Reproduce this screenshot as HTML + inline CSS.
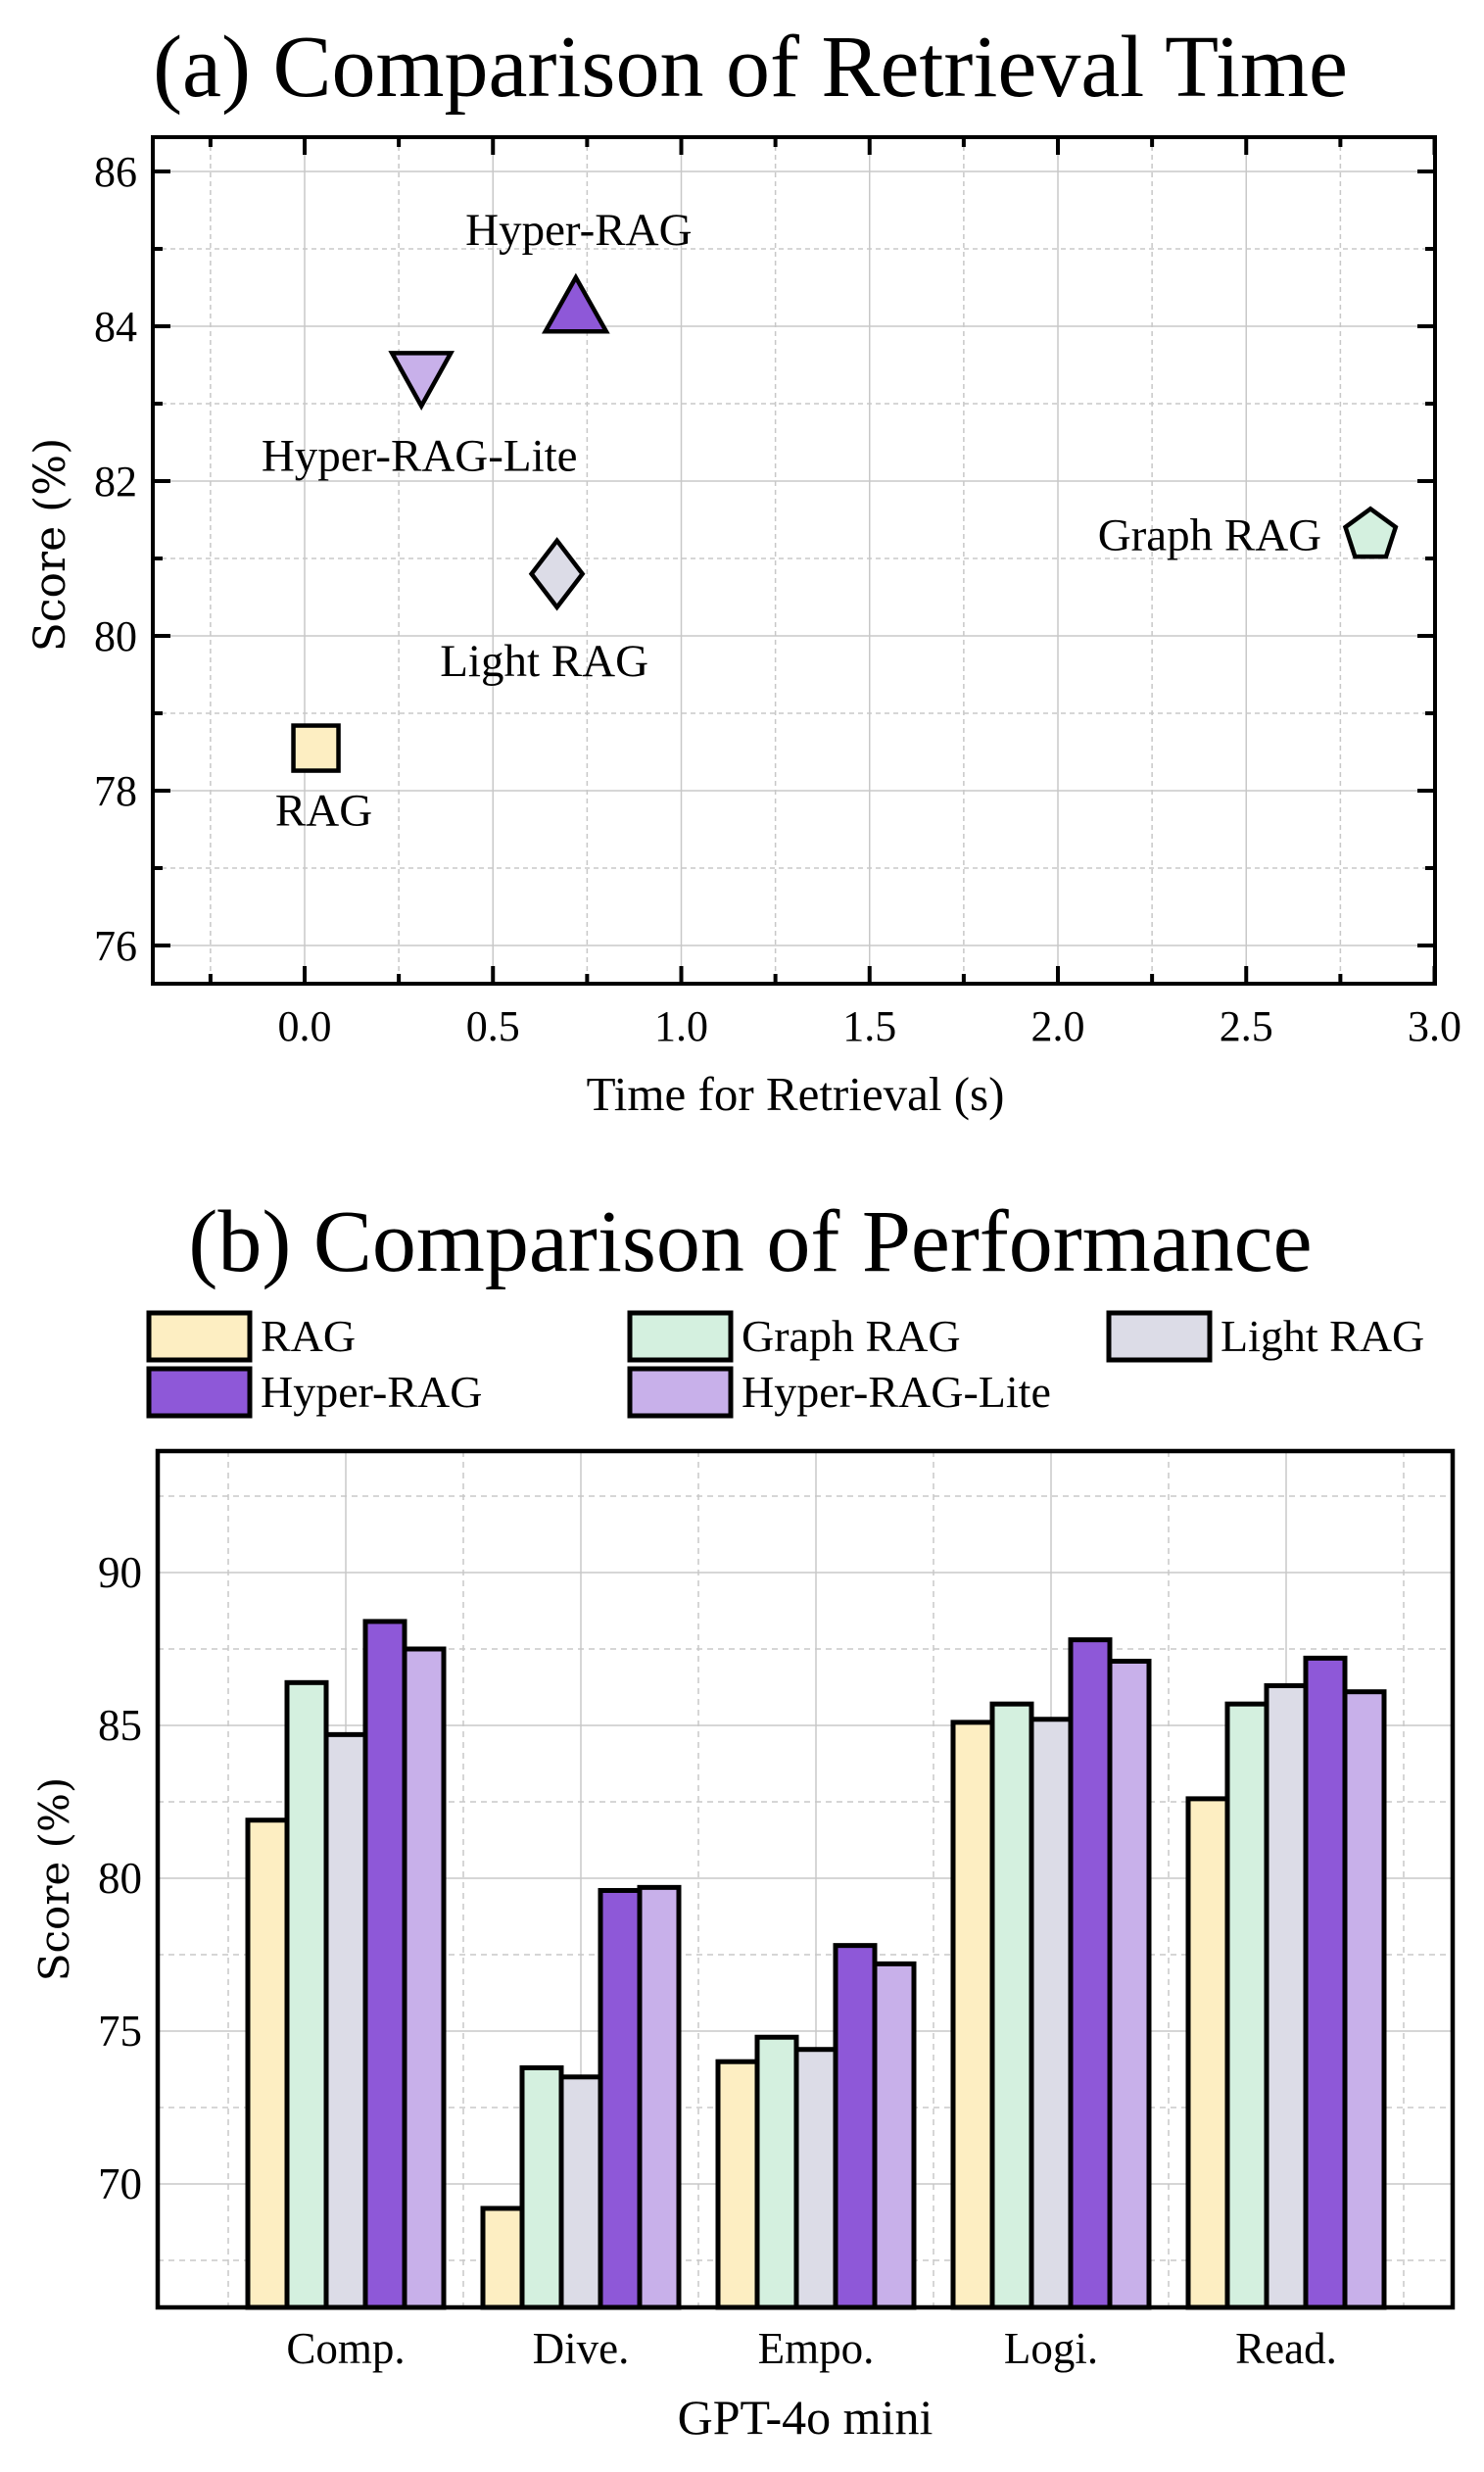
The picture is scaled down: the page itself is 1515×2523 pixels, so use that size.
<!DOCTYPE html>
<html><head><meta charset="utf-8">
<style>
html,body{margin:0;padding:0;background:#fff;}
svg{display:block;font-family:"Liberation Serif",serif;}
</style></head>
<body>
<svg id="fig" width="1515" height="2523" viewBox="0 0 1515 2523" xmlns="http://www.w3.org/2000/svg">
<text x="766" y="98" font-size="90" text-anchor="middle">(a) Comparison of Retrieval Time</text>
<g id="chartA"></g>
<text x="766" y="1297" font-size="90" text-anchor="middle">(b) Comparison of Performance</text>
<g id="legend"></g>
<g id="chartB"></g>
</svg>
<script>
// ---- Chart A data ----
const methodsA = ["RAG","Hyper-RAG-Lite","Hyper-RAG","Light RAG","Graph RAG"];
const timesA = [0.03, 0.31, 0.72, 0.67, 2.83];
const scoresA = [78.55, 83.4, 84.2, 80.8, 81.3];
const xTicksA = [0.0,0.5,1.0,1.5,2.0,2.5,3.0];
const yTicksA = [76,78,80,82,84,86];
// ---- Chart B data ----
const categoriesB = ["Comp.","Dive.","Empo.","Logi.","Read."];
const seriesNamesB = ["RAG","Graph RAG","Light RAG","Hyper-RAG","Hyper-RAG-Lite"];
const ragB = [81.9, 69.2, 74.0, 85.1, 82.6];
const graphB = [86.4, 73.8, 74.8, 85.7, 85.7];
const lightB = [84.7, 73.5, 74.4, 85.2, 86.3];
const hyperB = [88.4, 79.6, 77.8, 87.8, 87.2];
const liteB = [87.5, 79.7, 77.2, 87.1, 86.1];
const yTicksB = [70,75,80,85,90];

const NS="http://www.w3.org/2000/svg";
const colors={"RAG":"#fdeec2","Graph RAG":"#d4f0df","Light RAG":"#dcdce7","Hyper-RAG":"#8e58d8","Hyper-RAG-Lite":"#c8b0ea"};
function mk(parent,tag,attrs,text){const e=document.createElementNS(NS,tag);for(const k in attrs)e.setAttribute(k,attrs[k]);if(text!==undefined)e.textContent=text;parent.appendChild(e);return e;}

// ===== Chart A =====
const A=document.getElementById('chartA');
const aL=156,aR=1465,aT=140,aB=1004;
const xA=v=>311+v*384.5;
const yA=v=>807-(v-78)*79;
for(let v=-0.25;v<=3.0001;v+=0.25){const major=Math.abs(v*2-Math.round(v*2))<1e-6;
 const g=mk(A,'line',{x1:xA(v),x2:xA(v),y1:aT,y2:aB,stroke:'#c8c8c8','stroke-width':1.5,'stroke-dasharray':major?'':'5,4'});
 
 }
for(let v=76;v<=86;v+=1){const major=v%2===0;
 const g=mk(A,'line',{x1:aL,x2:aR,y1:yA(v),y2:yA(v),stroke:'#c8c8c8','stroke-width':1.5,'stroke-dasharray':major?'':'5,4'});
 
 }
for(let v=-0.25;v<=3.0001;v+=0.25){const major=Math.abs(v*2-Math.round(v*2))<1e-6;const L=major?18:10;
 mk(A,'line',{x1:xA(v),x2:xA(v),y1:aB,y2:aB-L,stroke:'#000','stroke-width':4});
 mk(A,'line',{x1:xA(v),x2:xA(v),y1:aT,y2:aT+L,stroke:'#000','stroke-width':4});}
for(let v=76;v<=86;v+=1){const L=(v%2===0)?18:10;
 mk(A,'line',{x1:aL,x2:aL+L,y1:yA(v),y2:yA(v),stroke:'#000','stroke-width':4});
 mk(A,'line',{x1:aR,x2:aR-L,y1:yA(v),y2:yA(v),stroke:'#000','stroke-width':4});}
xTicksA.forEach(v=>{const t=mk(A,'text',{x:xA(v),y:1062,'font-size':44,'text-anchor':'middle'},v.toFixed(1));
 
 });
yTicksA.forEach(v=>{const t=mk(A,'text',{x:140,y:yA(v)+15,'font-size':44,'text-anchor':'end'},String(v));
 
 });
mk(A,'rect',{x:aL,y:aT,width:aR-aL,height:aB-aT,fill:'none',stroke:'#000','stroke-width':4});
let t=mk(A,'text',{x:812,y:1133,'font-size':49,'text-anchor':'middle'},'Time for Retrieval (s)');


t=mk(A,'text',{x:0,y:0,'font-size':44,'text-anchor':'middle',transform:'translate(66,556) rotate(-90)','font-family':'"DejaVu Serif",serif'},'Score (%)');


const labelOff={"RAG":[8,79,'middle'],"Hyper-RAG-Lite":[-2,100,'middle'],"Hyper-RAG":[3,-67,'middle'],"Light RAG":[-13,104,'middle'],"Graph RAG":[-50,15,'end']};
methodsA.forEach((m,i)=>{const cx=xA(timesA[i]),cy=yA(scoresA[i]);let el;
 const st={fill:colors[m],stroke:'#000','stroke-width':4.5,'stroke-linejoin':'miter'};
 if(m==="RAG"){el=mk(A,'rect',Object.assign({x:cx-23,y:cy-23,width:46,height:46},st));}
 else if(m==="Hyper-RAG"){el=mk(A,'polygon',Object.assign({points:`${cx},${cy-34} ${cx+31},${cy+21} ${cx-31},${cy+21}`},st));}
 else if(m==="Hyper-RAG-Lite"){el=mk(A,'polygon',Object.assign({points:`${cx-30},${cy-20} ${cx+30},${cy-20} ${cx},${cy+34}`},st));}
 else if(m==="Light RAG"){el=mk(A,'polygon',Object.assign({points:`${cx},${cy-34} ${cx+26},${cy} ${cx},${cy+34} ${cx-26},${cy}`},st));}
 else {let p=[];for(let k=0;k<5;k++){const a=-Math.PI/2+k*2*Math.PI/5;p.push((cx+27*Math.cos(a)).toFixed(1)+','+(cy+27*Math.sin(a)).toFixed(1));}
  el=mk(A,'polygon',Object.assign({points:p.join(' ')},st));}
 
 
 const o=labelOff[m];
 const lb=mk(A,'text',{x:cx+o[0],y:cy+o[1],'font-size':47,'text-anchor':o[2]},m);
 
 
});

// ===== Legend =====
const Lg=document.getElementById('legend');
const legPos=[[152,1340],[643,1340],[1132,1340],[152,1397],[643,1397]];
const legOrder=["RAG","Graph RAG","Light RAG","Hyper-RAG","Hyper-RAG-Lite"];
legOrder.forEach((n,i)=>{const [x,y]=legPos[i];
 const r=mk(Lg,'rect',{x:x,y:y,width:103,height:48,fill:colors[n],stroke:'#000','stroke-width':5});
 
 
 const tx=mk(Lg,'text',{x:x+114,y:y+39,'font-size':46},n);
 
 });

// ===== Chart B =====
const B=document.getElementById('chartB');
const bL=161,bR=1483,bT=1481,bB=2355;
const xB=i=>353+i*240;
const yB=v=>1605+(90-v)*31.2;
const bw=40;
for(let k=-1.5;k<=4.75;k+=0.5){const x=xB(k);if(x<=bL||x>=bR)continue;const major=Number.isInteger(k);
 const g=mk(B,'line',{x1:x,x2:x,y1:bT,y2:bB,stroke:'#c8c8c8','stroke-width':1.5,'stroke-dasharray':major?'':'6,5'});
 
 }
for(let v=67.5;v<=92.5;v+=2.5){const major=v%5===0;
 const g=mk(B,'line',{x1:bL,x2:bR,y1:yB(v),y2:yB(v),stroke:'#c8c8c8','stroke-width':1.5,'stroke-dasharray':major?'':'6,5'});
 
 }
const allSeries=[ragB,graphB,lightB,hyperB,liteB];
allSeries.forEach((arr,s)=>{arr.forEach((v,i)=>{const x=xB(i)+(s-2.5)*bw;const y=yB(v);
 const r=mk(B,'rect',{x:x,y:y,width:bw,height:bB-y,fill:colors[seriesNamesB[s]],stroke:'#000','stroke-width':5});
 
 });});
mk(B,'rect',{x:bL,y:bT,width:bR-bL,height:bB-bT,fill:'none',stroke:'#000','stroke-width':4.5});
categoriesB.forEach((c,i)=>{const tx=mk(B,'text',{x:xB(i),y:2412,'font-size':45,'text-anchor':'middle'},c);
 
 });
yTicksB.forEach(v=>{const tx=mk(B,'text',{x:145,y:yB(v)+15,'font-size':45,'text-anchor':'end'},String(v));
 
 });
t=mk(B,'text',{x:822,y:2484,'font-size':50,'text-anchor':'middle'},'GPT-4o mini');


t=mk(B,'text',{x:0,y:0,'font-size':42,'text-anchor':'middle',transform:'translate(70,1918) rotate(-90)','font-family':'"DejaVu Serif",serif'},'Score (%)');


</script>
</body></html>
